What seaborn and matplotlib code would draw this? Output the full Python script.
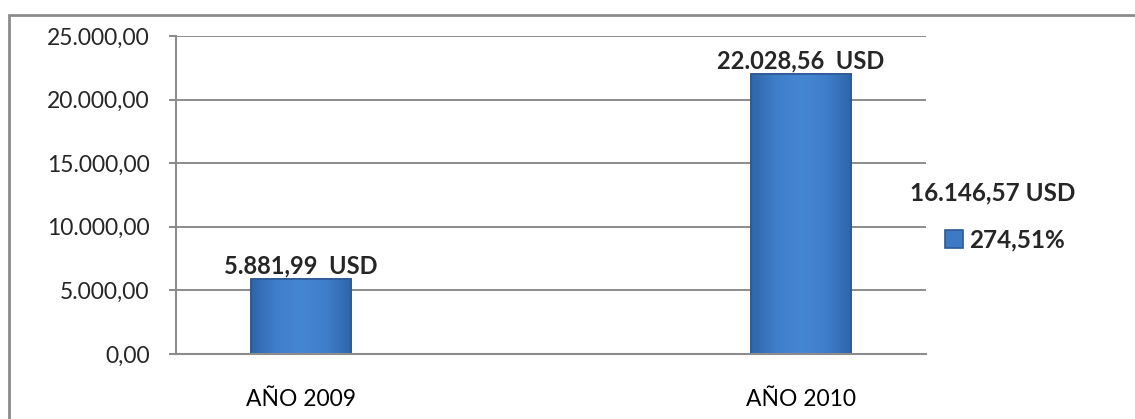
import matplotlib
matplotlib.use("Agg")
import matplotlib.pyplot as plt
import matplotlib.patches as mpatches
from matplotlib.ticker import FuncFormatter, FixedLocator
from matplotlib.colors import LinearSegmentedColormap
import seaborn as sns
import pandas as pd
import numpy as np

categories = ["AÑO 2009", "AÑO 2010"]
values = [5881.99, 22028.56]
axis_order = ["AÑO 2009", " ", "AÑO 2010"]
yticks = [0, 5000, 10000, 15000, 20000, 25000]
diff_text = "16.146,57 USD"
legend_label = "274,51%"

sns.set_theme(style="white")
plt.rcParams["font.family"] = ["Lato", "DejaVu Sans"]


def es_fmt(v, dec=2):
    s = f"{v:,.{dec}f}"
    return s.replace(",", "X").replace(".", ",").replace("X", ".")


df = pd.DataFrame({"cat": categories, "val": values})

fig = plt.figure(figsize=(11.35, 4.19), dpi=100)
ax = fig.add_axes([176 / 1135, 1 - 354 / 419, 750 / 1135, 318 / 419])

sns.barplot(data=df, x="cat", y="val", order=axis_order, color="#3D7AC6",
            width=0.4, edgecolor="#2C5A94", linewidth=1.2, ax=ax,
            label=legend_label, saturation=1)

ax.set_xlim(-0.5, 2.5)
ax.set_ylim(0, 25000)

# subtle shading on bars (horizontal gradient, darker at the sides)
cmap = LinearSegmentedColormap.from_list("bev", ["#2F66AA", "#3F7ECB", "#4586D3", "#3F7ECB", "#2F66AA"])
grad = np.tile(np.linspace(0, 1, 200), (2, 1))
for p in ax.patches:
    if not np.isfinite(p.get_height()) or p.get_height() <= 0:
        continue
    x0, y0 = p.get_x(), p.get_y()
    w, h = p.get_width(), p.get_height()
    im = ax.imshow(grad, cmap=cmap, aspect="auto", extent=[x0, x0 + w, y0, y0 + h],
                   zorder=p.get_zorder() + 0.1, interpolation="bilinear")
    im.set_clip_path(p)
    outline = mpatches.Rectangle((x0, y0), w, h, fill=False, edgecolor="#2C5A94",
                                 linewidth=1.2, zorder=p.get_zorder() + 0.2)
    ax.add_patch(outline)
ax.set_xlim(-0.5, 2.5)
ax.set_ylim(0, 25000)

ax.set_yticks(yticks)
ax.yaxis.set_major_formatter(FuncFormatter(lambda v, p: es_fmt(v)))
ax.set_xlabel("")
ax.set_ylabel("")

ax.set_xticks([0, 2])
ax.set_xticklabels(categories)
ax.xaxis.set_minor_locator(FixedLocator([-0.5, 0.5, 1.5, 2.5]))
ax.tick_params(axis="x", which="major", length=0, pad=25, labelsize=16.5, colors="#000000")
ax.tick_params(axis="x", which="minor", length=5, width=1.5, color="#8C8C8C", direction="out")
ax.tick_params(axis="y", which="major", length=5, width=1.5, color="#8C8C8C",
               direction="out", left=True, labelsize=16.5, pad=14)

ax.grid(axis="y", color="#8C8C8C", linewidth=1.4)
ax.set_axisbelow(True)
for side in ["top", "right"]:
    ax.spines[side].set_visible(False)
for side in ["left", "bottom"]:
    ax.spines[side].set_color("#8C8C8C")
    ax.spines[side].set_linewidth(1.5)

for cont in ax.containers:
    labels = [f"{es_fmt(v)}  USD" for v in values]
    ax.bar_label(cont, labels=labels, padding=1, fontsize=17, fontweight="bold")

leg = ax.legend(loc="center left", bbox_to_anchor=(945 / 1135, 1 - 240 / 419),
                bbox_transform=fig.transFigure, frameon=False,
                prop={"weight": "bold", "size": 17.5}, handlelength=0.75,
                handleheight=0.75, handletextpad=0.25, borderpad=0, borderaxespad=0)

fig.text(993 / 1135, 1 - 193 / 419, diff_text, ha="center", va="center",
         fontsize=17.5, fontweight="bold")

frame = mpatches.Rectangle((9 / 1135, -0.1), 1.2, 0.1 + (1 - 15 / 419),
                           transform=fig.transFigure, fill=False,
                           edgecolor="#8C8C8C", linewidth=2, clip_on=False)
fig.patches.append(frame)

fig.savefig("out.png", dpi=100)
